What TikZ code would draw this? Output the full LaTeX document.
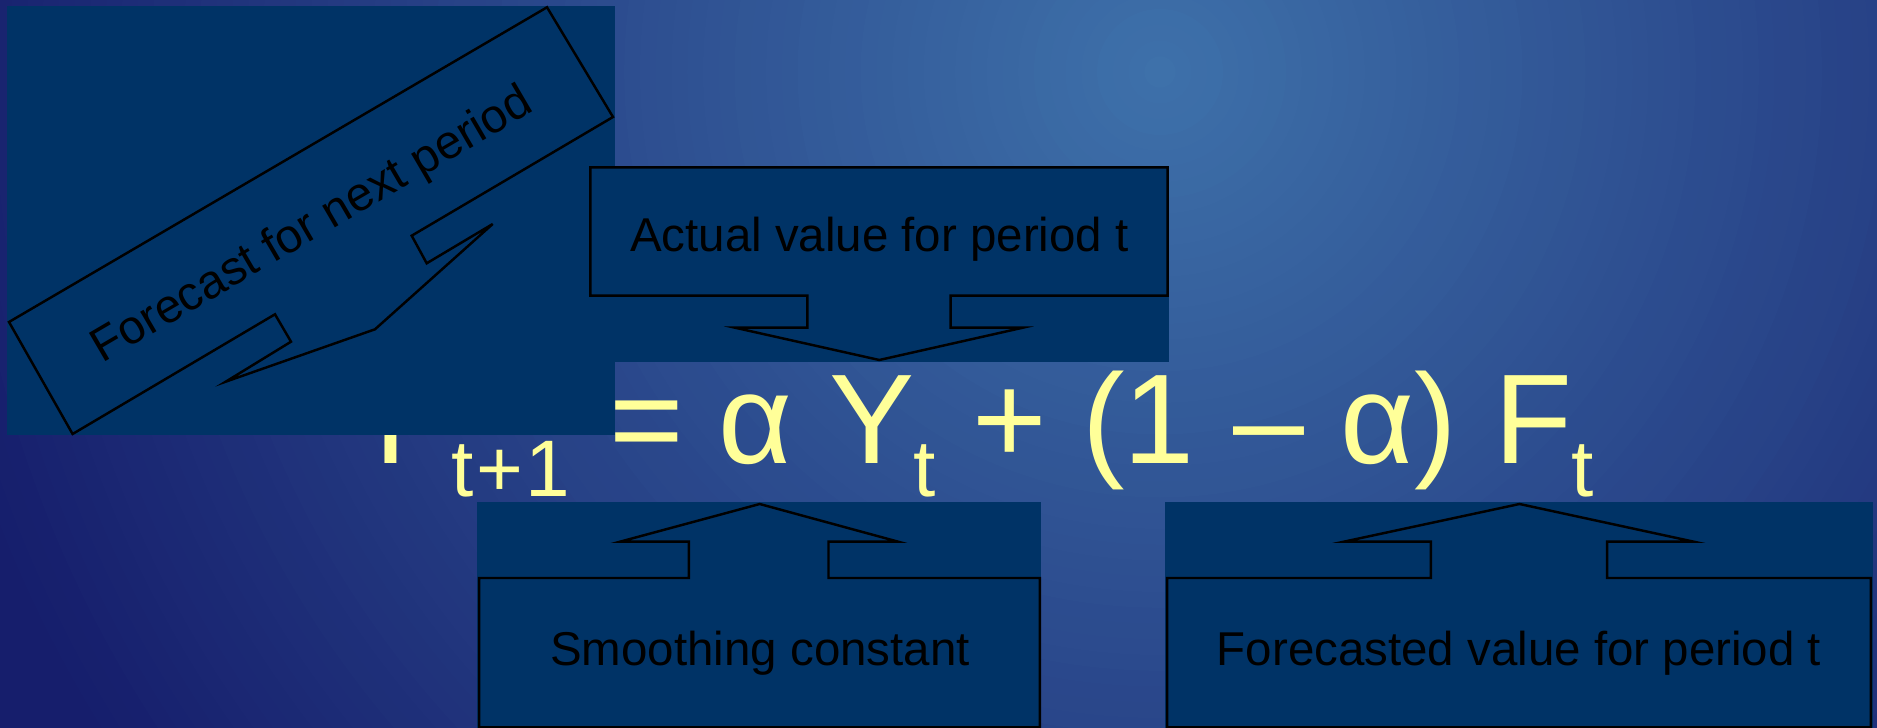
\documentclass[tikz,border=0pt]{standalone}
\usepackage{fontspec}
\newfontfamily\lsans{Liberation Sans}
\definecolor{bgin}{RGB}{62,113,170}
\definecolor{bgout}{RGB}{22,30,108}
\definecolor{cblue}{HTML}{003366}
\definecolor{fyellow}{HTML}{FFFF99}
\tikzset{
  cbg/.style={fill=cblue, draw=none},
  cline/.style={fill=cblue, draw=black, line width=0.7pt, line join=miter},
  ctext/.style={font={\lsans\fontsize{13.5}{16}\selectfont}, text=black, inner sep=0pt, anchor=base},
  fmain/.style={font={\lsans\fontsize{36.3}{40}\selectfont}, text=fyellow, inner sep=0pt, anchor=base},
  fsub/.style={font={\lsans\fontsize{22.8}{26}\selectfont}, text=fyellow, inner sep=0pt, anchor=base},
}
\begin{document}
\begin{tikzpicture}[x=0.01cm, y=-0.01cm]
\useasboundingbox (0,0) rectangle (1877,728);
% background: radial gradient from a light centre near the top
\begin{scope}
  \clip (0,0) rectangle (1877,728);
  \fill[bgout] (0,0) rectangle (1877,728);
  \foreach \i in {0,...,79} {
    \pgfmathsetmacro\rr{12.6*(1-\i/80)}
    \pgfmathtruncatemacro\pp{100*\i/79}
    \fill[bgin!\pp!bgout] (1160,72) circle[radius=\rr cm];
  }
\end{scope}
% formula
\node[fmain] (fF1) at (413.5,464) {F};
\node[fsub] (fs1) at (462.2,496) {t};
\node[fsub] (fs2) at (499.5,496) {+};
\node[fsub] (fs3) at (547.7,496) {1};
\node[fmain] (feq) at (646.5,464) {=};
\node[fmain] (fa1) at (755.8,464) {α};
\node[fmain] (fY) at (871.7,464) {Y};
\node[fsub] (fs4) at (924.5,496) {t};
\node[fmain] (fplus) at (1010,464) {+};
\node[fmain] (flp) at (1104,464) {(};
\node[fmain] (fone) at (1158.7,464) {1};
\node[fmain] (fminus) at (1268.5,464) {–};
\node[fmain] (fa2) at (1377.5,464) {α};
\node[fmain] (frp) at (1436,464) {)};
\node[fmain] (fF2) at (1533.5,464) {F};
\node[fsub] (fs5) at (1582.5,496) {t};
% callout: forecast for next period
\path[cbg] (7.3,6) rectangle (615,435.5);
\path[cline] (547,7.3) -- (613,117) -- (411.7,235.7) -- (426.7,263.3) -- (492.7,224)
  -- (375,329.3) -- (225.7,381.7) -- (291,341.7) -- (275,314.3) -- (72.6,434) -- (9,322) -- cycle;
\node[ctext, rotate=30.3] (tforecast) at (319,237) {Forecast for next period};
% callout: actual value
\path[cbg] (588,166) rectangle (1169,361.7);
\path[cline] (590.3,167.3) -- (1167.5,167.3) -- (1167.5,295.7) -- (950.5,295.7) -- (950.5,327.7)
  -- (1022.8,327.7) -- (879.3,360) -- (735,327.7) -- (807.3,327.7) -- (807.3,295.7) -- (590.3,295.7) -- cycle;
\node[ctext] (tactual) at (879.4,251.7) {Actual value for period t};
% callout: smoothing constant
\path[cbg] (477.2,502) rectangle (1041,728);
\path[cline] (479.1,578) -- (688.9,578) -- (688.9,541.7) -- (620,541.7) -- (759.7,504) -- (898.2,541.7)
  -- (828.5,541.7) -- (828.5,578) -- (1039.8,578) -- (1039.8,727.3) -- (479.1,727.3) -- cycle;
\node[ctext] (tsmooth) at (760,665) {Smoothing constant};
% callout: forecasted value
\path[cbg] (1165,502) rectangle (1873,728);
\path[cline] (1167.2,578) -- (1430.9,578) -- (1430.9,541.7) -- (1343.8,541.7) -- (1519.5,504) -- (1693.8,541.7)
  -- (1607.1,541.7) -- (1607.1,578) -- (1870.9,578) -- (1870.9,727.3) -- (1167.2,727.3) -- cycle;
\node[ctext] (tfcast) at (1519,665) {Forecasted value for period t};
\end{tikzpicture}
\end{document}
